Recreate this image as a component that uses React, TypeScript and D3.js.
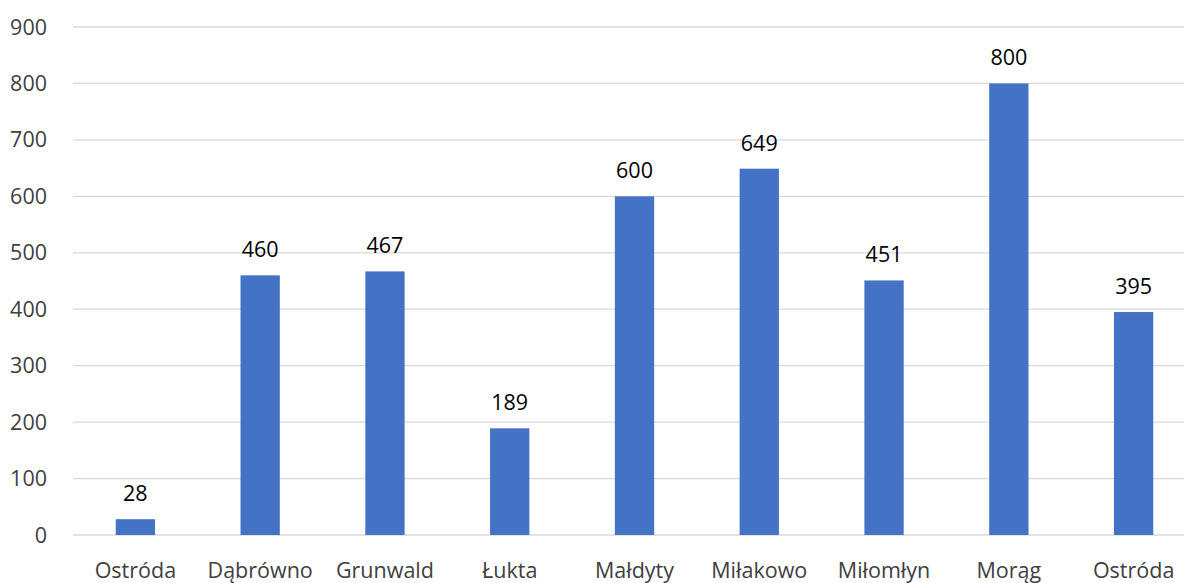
import * as d3 from "d3";
import { useEffect, useRef } from "react";

const categories = ["Ostróda", "Dąbrówno", "Grunwald", "Łukta", "Małdyty", "Miłakowo", "Miłomłyn", "Morąg", "Ostróda"];
const values = [28, 460, 467, 189, 600, 649, 451, 800, 395];
const yTicks = [0, 100, 200, 300, 400, 500, 600, 700, 800, 900];

const W = 1184, H = 583;
const FONT = "'Segoe UI', 'Open Sans', 'Noto Sans', sans-serif";

const App = () => {
  const ref = useRef<SVGSVGElement>(null);

  useEffect(() => {
    document.body.style.margin = "0";
    const svg = d3.select(ref.current);
    svg.selectAll("*").remove();

    const margin = { left: 73, right: -12, top: 27, bottom: 48 };

    const x = d3.scaleBand()
      .domain(categories.map((c, i) => i + ""))
      .range([margin.left, W - margin.right])
      .paddingInner(0.685)
      .paddingOuter(0.3425);

    const y = d3.scaleLinear()
      .domain([0, 900])
      .range([H - margin.bottom, margin.top]);

    // grid
    svg.append("g")
      .selectAll("line")
      .data(yTicks)
      .enter()
      .append("line")
      .attr("x1", margin.left)
      .attr("x2", W)
      .attr("y1", (d) => y(d))
      .attr("y2", (d) => y(d))
      .style("stroke", "#d9d9d9")
      .style("stroke-width", 1.3);

    // y labels
    svg.append("g")
      .selectAll("text")
      .data(yTicks)
      .enter()
      .append("text")
      .attr("x", 47)
      .attr("y", (d) => y(d))
      .attr("dy", "0.35em")
      .style("text-anchor", "end")
      .style("font-family", FONT)
      .style("font-size", "21.5px")
      .style("fill", "#404040")
      .text((d) => d);

    // bars
    svg.append("g")
      .selectAll("rect")
      .data(values)
      .enter()
      .append("rect")
      .attr("x", (d, i) => x(i + "")!)
      .attr("width", x.bandwidth())
      .attr("y", (d) => y(d))
      .attr("height", (d) => y(0) - y(d))
      .style("fill", "#4472c4");

    // data labels
    svg.append("g")
      .selectAll("text")
      .data(values)
      .enter()
      .append("text")
      .attr("x", (d, i) => x(i + "")! + x.bandwidth() / 2)
      .attr("y", (d) => y(d) - 18)
      .style("text-anchor", "middle")
      .style("font-family", FONT)
      .style("font-size", "21.5px")
      .style("font-weight", 500)
      .style("fill", "#000")
      .text((d) => d);

    // x labels
    svg.append("g")
      .selectAll("text")
      .data(categories)
      .enter()
      .append("text")
      .attr("x", (d, i) => x(i + "")! + x.bandwidth() / 2)
      .attr("y", 578)
      .style("text-anchor", "middle")
      .style("font-family", FONT)
      .style("font-size", "21.5px")
      .style("fill", "#404040")
      .text((d) => d);
  }, []);

  return <svg ref={ref} width={W} height={H} style={{ display: "block", background: "#fff" }} />;
};

export default App;
